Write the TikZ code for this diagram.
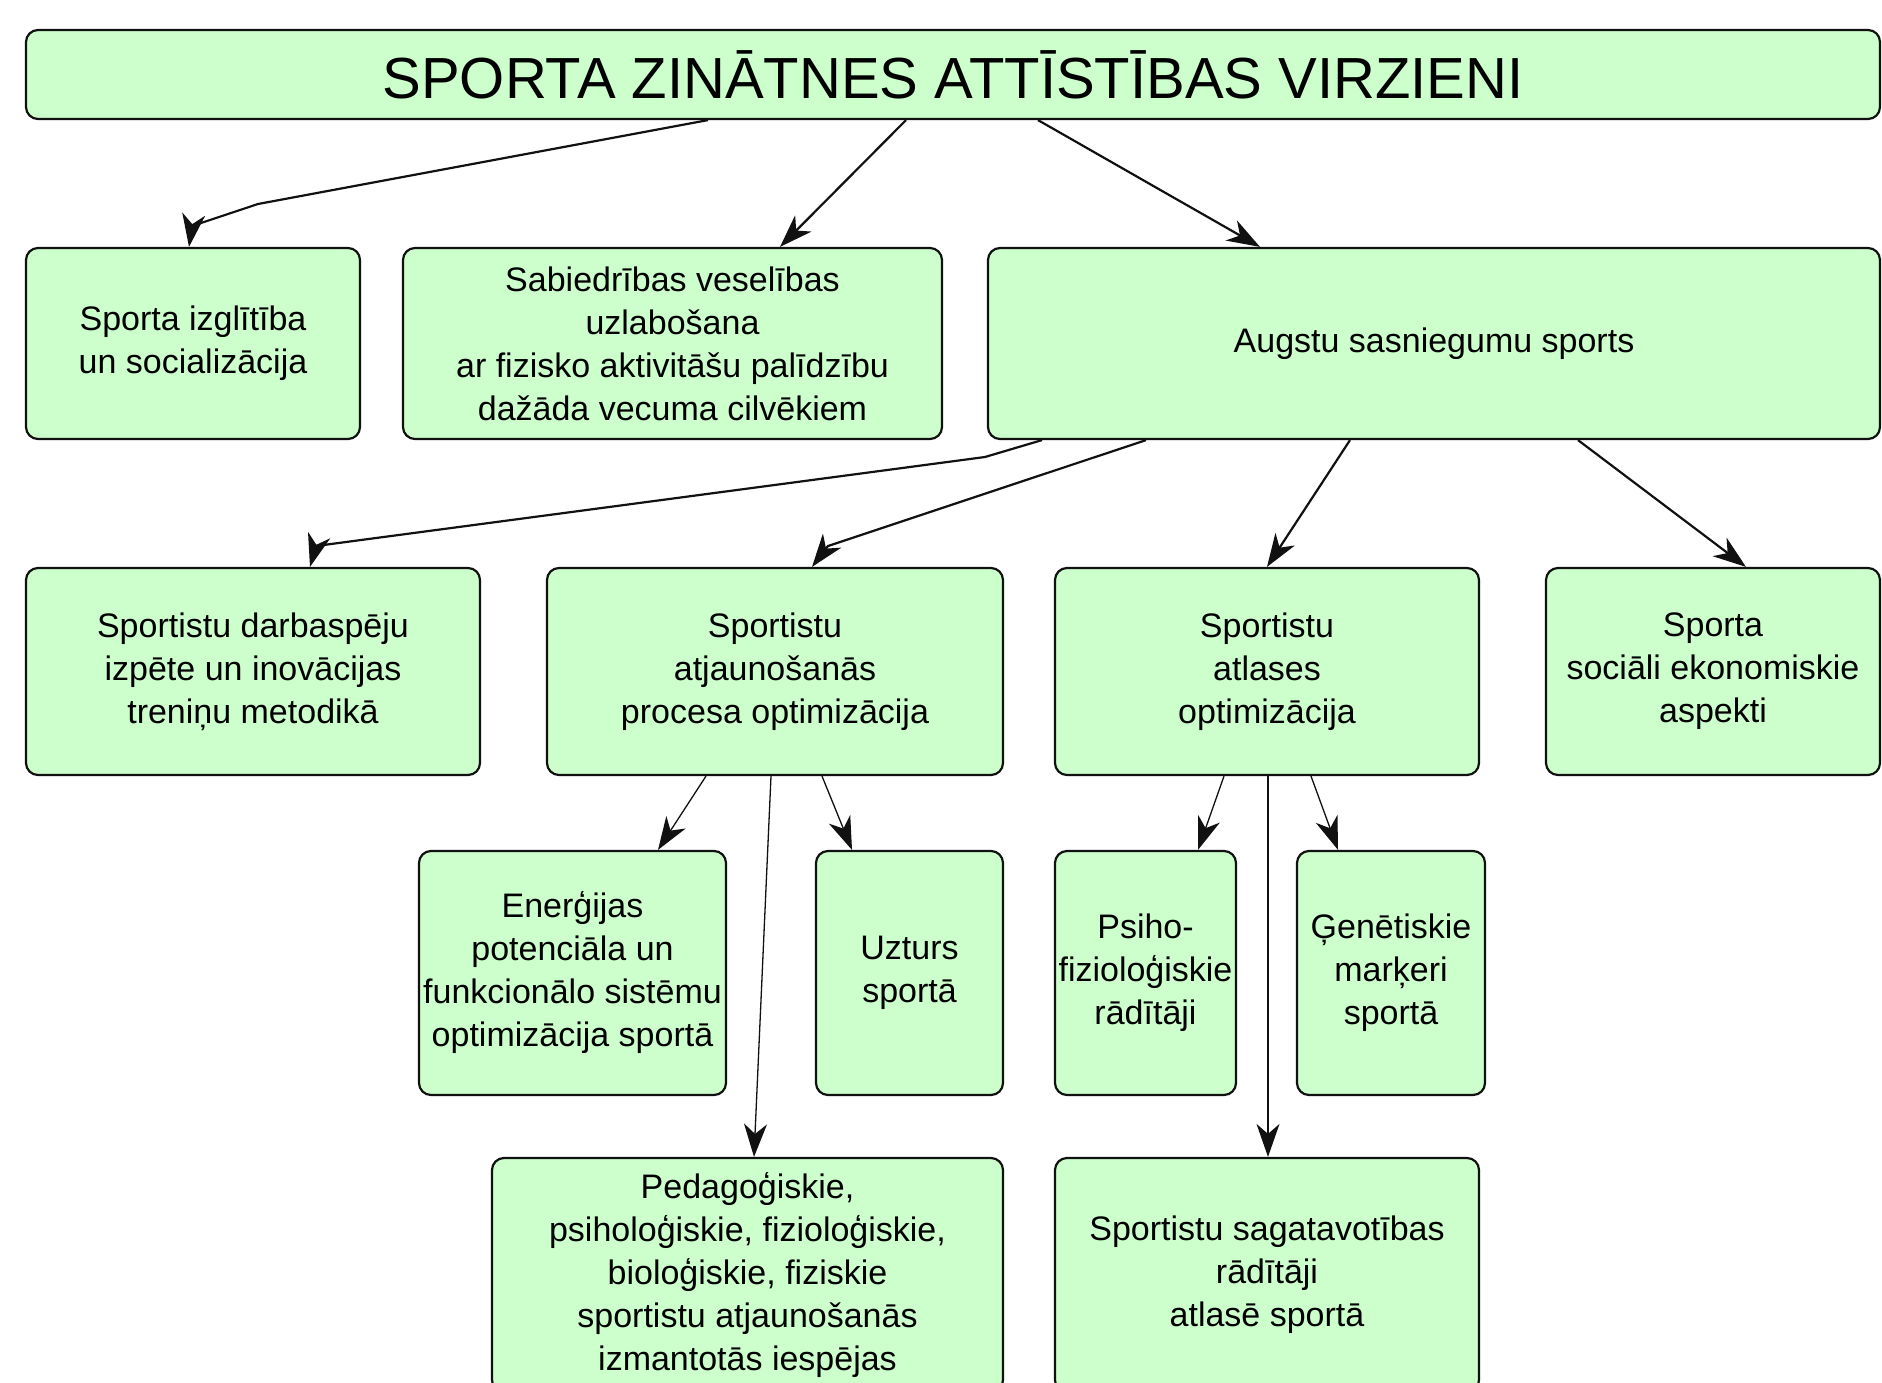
\documentclass[tikz,border=0pt]{standalone}
\usepackage{fontspec}
\setmainfont{Liberation Sans}
\usetikzlibrary{arrows.meta}
\definecolor{mint}{HTML}{CCFFCC}
\definecolor{ink}{HTML}{111111}
\tikzset{bx/.style={draw=ink,line width=2.2pt,fill=mint,rounded corners=12pt,align=center,inner sep=2pt,font=\fontsize{34}{43}\selectfont},
lnk/.style={ink,line width=2.2pt,-{Stealth[length=33pt,width=23pt,inset=10pt]}},
lnkthin/.style={lnk,line width=1.3pt}}

\begin{document}
\begin{tikzpicture}[x=1pt,y=-1pt]
\useasboundingbox (0,0) rectangle (1882,1383);
\node[bx,minimum width=1854pt,minimum height=89pt,font=\fontsize{58}{60}\selectfont] (title) at (953,74.5) {SPORTA ZINĀTNES ATTĪSTĪBAS VIRZIENI};
% first row
\node[bx,minimum width=334pt,minimum height=191pt] (izgl) at (193,343.5) {Sporta izglītība\\un socializācija};
\node[bx,minimum width=539pt,minimum height=191pt] (vesel) at (672.5,343.5) {Sabiedrības veselības\\uzlabošana\\ar fizisko aktivitāšu palīdzību\\dažāda vecuma cilvēkiem};
\node[bx,minimum width=892pt,minimum height=191pt] (augst) at (1434,343.5) {Augstu sasniegumu sports};
% second row
\node[bx,minimum width=454pt,minimum height=207pt] (darb) at (253,671.5) {Sportistu darbaspēju\\izpēte un inovācijas\\treniņu metodikā};
\node[bx,minimum width=456pt,minimum height=207pt] (atjau) at (775,671.5) {Sportistu\\atjaunošanās\\procesa optimizācija};
\node[bx,minimum width=424pt,minimum height=207pt] (atlas) at (1267,671.5) {Sportistu\\atlases\\optimizācija};
\node[bx,minimum width=334pt,minimum height=207pt] (ekon) at (1713,671.5) {Sporta\\sociāli ekonomiskie\\aspekti};
% third row
\node[bx,minimum width=307pt,minimum height=244pt] (energ) at (572.5,973) {Enerģijas\\potenciāla un\\funkcionālo sistēmu\\optimizācija sportā};
\node[bx,minimum width=187pt,minimum height=244pt] (uzt) at (909.5,973) {Uzturs\\sportā};
\node[bx,minimum width=181pt,minimum height=244pt] (psih) at (1145.5,973) {Psiho-\\fizioloģiskie\\rādītāji};
\node[bx,minimum width=188pt,minimum height=244pt] (gen) at (1391,973) {Ģenētiskie\\marķeri\\sportā};
% fourth row, cut by the page edge
\node[bx,minimum width=511pt,minimum height=234pt] (pedag) at (747.5,1275) {Pedagoģiskie,\\psiholoģiskie, fizioloģiskie,\\bioloģiskie, fiziskie\\sportistu atjaunošanās\\izmantotās iespējas};
\node[bx,minimum width=424pt,minimum height=234pt] (sagat) at (1267,1275) {Sportistu sagatavotības\\rādītāji\\atlasē sportā};
% connectors
\draw[lnk] ([xshift=-245pt]title.south) -- (258,204) -- (192,226) -- ([xshift=-4pt]izgl.north);
\draw[lnk] ([xshift=-47pt]title.south) -- ([xshift=107.5pt]vesel.north);
\draw[lnk] ([xshift=85pt]title.south) -- ([xshift=-174pt]augst.north);
\draw[lnk] ([xshift=-392pt]augst.south) -- (985,457) -- (316,546) -- ([xshift=57pt]darb.north);
\draw[lnk] ([xshift=-288pt]augst.south) -- (828,546) -- ([xshift=37pt]atjau.north);
\draw[lnk] ([xshift=-84pt]augst.south) -- (atlas.north);
\draw[lnk] ([xshift=144pt]augst.south) -- ([xshift=33pt]ekon.north);
\draw[lnkthin] ([xshift=-69pt]atjau.south) -- ([xshift=85.5pt]energ.north);
\draw[lnkthin] ([xshift=-4pt]atjau.south) -- ([xshift=6.5pt]pedag.north);
\draw[lnkthin] ([xshift=47pt]atjau.south) -- ([xshift=-57.5pt]uzt.north);
\draw[lnkthin] ([xshift=-43pt]atlas.south) -- ([xshift=52.5pt]psih.north);
\draw[lnkthin] ([xshift=1pt]atlas.south) -- ([xshift=1pt]sagat.north);
\draw[lnkthin] ([xshift=44pt]atlas.south) -- ([xshift=-53pt]gen.north);
\end{tikzpicture}
\end{document}
